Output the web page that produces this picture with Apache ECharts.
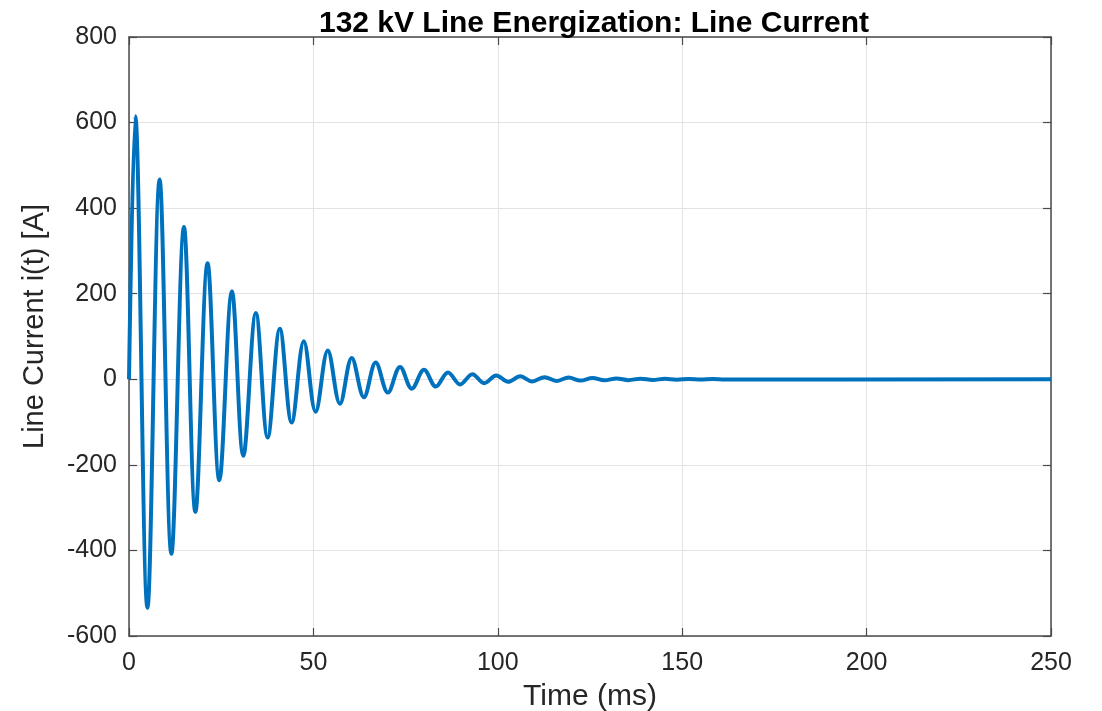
<!DOCTYPE html>
<html>
<head>
<meta charset="utf-8">
<script src="https://cdn.jsdelivr.net/npm/echarts@6/dist/echarts.min.js"></script>
<style>
html,body{margin:0;padding:0;background:#fff;}
#chart{width:1102px;height:711px;}
</style>
</head>
<body>
<div id="chart"></div>
<script>
// Start value, local maxima and minima of i(t), end value
const startPoint = [0, 0];
const peakTimes = [1.7, 8.3, 14.9, 21.3, 27.9, 34.4, 40.9, 47.4, 53.9, 60.4, 66.9, 73.5, 80.0, 86.5, 93.1, 99.6, 106.1, 112.7, 119.2, 125.7, 132.2, 138.7, 145.3, 151.8, 158.3];
const peakValues = [615, 467, 356, 271, 206, 155, 118, 89, 67, 50, 39, 29, 22, 16, 12, 9, 7, 5, 4, 3, 2, 1.5, 1, 0.8, 0.5];
const troughTimes = [5.0, 11.5, 18.0, 24.5, 31.0, 37.6, 44.1, 50.6, 57.2, 63.7, 70.2, 76.7, 83.2, 89.8, 96.3, 102.8, 109.3, 115.9, 122.4, 128.9, 135.4, 142.0, 148.5, 155.0, 161.5];
const troughValues = [-534, -408, -310, -236, -179, -136, -101, -76, -57, -42, -31, -22, -17, -12, -9, -6, -5, -4, -3, -2.5, -2, -1.5, -1, -0.7, -0.5];
const endPoint = [250, 0];
const xTicks = [0, 50, 100, 150, 200, 250];
const yTicks = [-600, -400, -200, 0, 200, 400, 600, 800];

const titleText = '132 kV Line Energization: Line Current';
const xName = 'Time (ms)';
const yName = 'Line Current i(t) [A]';

const pts = [startPoint];
peakTimes.forEach((t, i) => pts.push([t, peakValues[i]]));
troughTimes.forEach((t, i) => pts.push([t, troughValues[i]]));
pts.push(endPoint);
pts.sort((a, b) => a[0] - b[0]);

const txt = '#262626';
const axisCol = '#4a4a4a';
const gridCol = '#e3e3e3';
const font = "'Liberation Sans', Arial, sans-serif";

const chart = echarts.init(document.getElementById('chart'), null, {renderer: 'canvas'});
const baseX = {
  type: 'value', min: xTicks[0], max: xTicks[xTicks.length - 1], interval: 50
};
const baseY = {
  type: 'value', min: yTicks[0], max: yTicks[yTicks.length - 1], interval: 200
};
chart.setOption({
  animation: false,
  backgroundColor: '#fff',
  title: {
    text: titleText,
    left: 589, top: 4, textAlign: 'center',
    textStyle: {fontFamily: font, fontWeight: 'bold', fontSize: 30, color: '#000'}
  },
  grid: {left: 129, right: 51, top: 37, bottom: 75, containLabel: false, outerBoundsMode: 'none'},
  xAxis: [
    Object.assign({}, baseX, {
      position: 'bottom',
      name: xName, nameLocation: 'middle', nameGap: 46,
      nameTextStyle: {fontFamily: font, fontSize: 30, color: txt},
      axisLine: {show: true, onZero: false, lineStyle: {color: axisCol, width: 1.5}},
      axisTick: {show: true, inside: true, length: 8, lineStyle: {color: axisCol, width: 1.2}},
      axisLabel: {fontFamily: font, fontSize: 25, color: txt, margin: 15},
      splitLine: {show: true, lineStyle: {color: gridCol, width: 1}}
    }),
    Object.assign({}, baseX, {
      position: 'top',
      axisLine: {show: true, onZero: false, lineStyle: {color: axisCol, width: 1.5}},
      axisTick: {show: true, inside: true, length: 8, lineStyle: {color: axisCol, width: 1.2}},
      axisLabel: {show: false},
      splitLine: {show: false}
    })
  ],
  yAxis: [
    Object.assign({}, baseY, {
      position: 'left',
      name: yName, nameLocation: 'middle', nameGap: 80, nameRotate: 90,
      nameTextStyle: {fontFamily: font, fontSize: 29, color: txt, padding: [0, 0, 0, 20]},
      axisLine: {show: true, onZero: false, lineStyle: {color: axisCol, width: 1.5}},
      axisTick: {show: true, inside: true, length: 8, lineStyle: {color: axisCol, width: 1.2}},
      axisLabel: {fontFamily: font, fontSize: 25, color: txt, margin: 12},
      splitLine: {show: true, lineStyle: {color: gridCol, width: 1}}
    }),
    Object.assign({}, baseY, {
      position: 'right',
      axisLine: {show: true, onZero: false, lineStyle: {color: axisCol, width: 1.5}},
      axisTick: {show: true, inside: true, length: 8, lineStyle: {color: axisCol, width: 1.2}},
      axisLabel: {show: false},
      splitLine: {show: false}
    })
  ],
  series: [{
    type: 'line',
    xAxisIndex: 0, yAxisIndex: 0,
    data: pts,
    smooth: 0.36,
    showSymbol: false,
    lineStyle: {color: '#0072BD', width: 4},
    clip: true
  }]
});
</script>
</body>
</html>
